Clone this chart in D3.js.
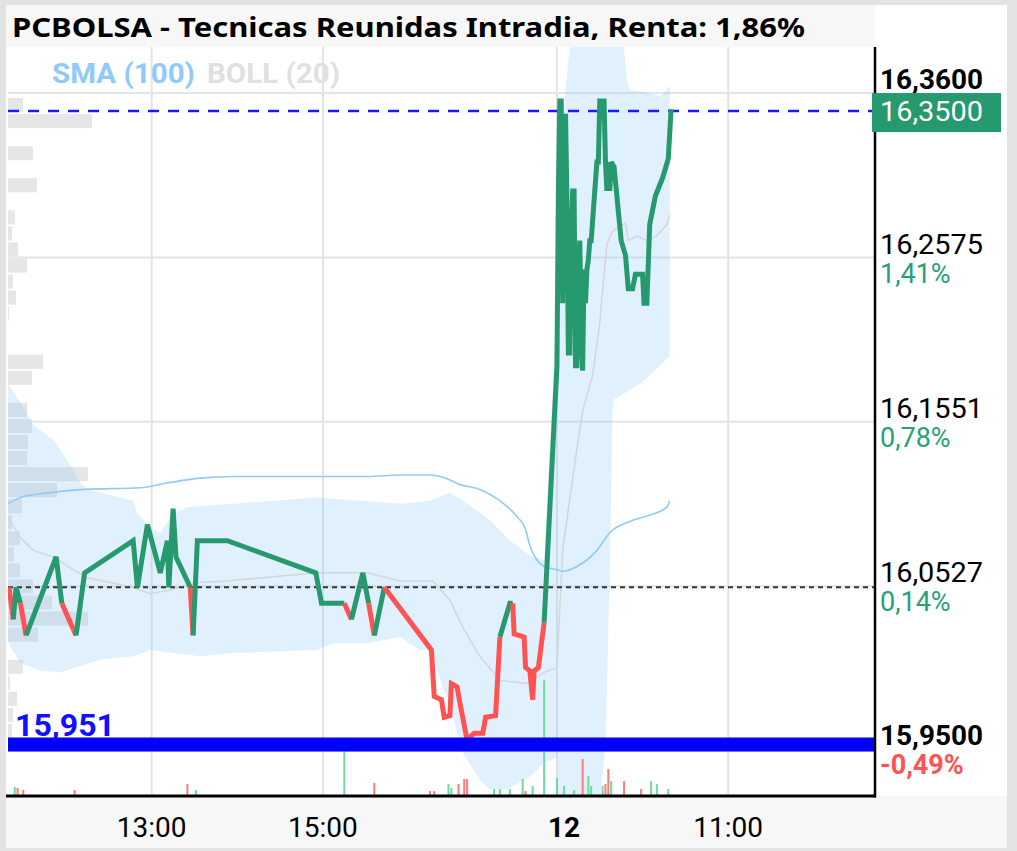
<!DOCTYPE html>
<html>
<head>
<meta charset="utf-8">
<script src="https://cdn.jsdelivr.net/npm/d3@7"></script>
<style>
  html, body { margin: 0; padding: 0; background: #ffffff; }
  svg { display: block; }
</style>
</head>
<body>
<svg id="chart" width="1017" height="851"></svg>
<script>
// ---------------- DATA ----------------
const chartTitle = "PCBOLSA - Tecnicas Reunidas Intradia, Renta: 1,86%";
const legendLabels = ["SMA (100)", "BOLL (20)"];

// price path ("day hh:mm")
const priceTimes = [
  "1 11:20","1 11:23","1 11:25","1 11:28","1 11:32","1 11:53","1 11:57","1 12:07","1 12:13","1 12:47",
  "1 12:50","1 12:57","1 13:06","1 13:11","1 13:12","1 13:15","1 13:17","1 13:27","1 13:29","1 13:32",
  "1 13:53","1 14:55","1 14:59","1 15:15","1 15:20","1 15:28","1 15:32","1 15:36","1 15:43","1 16:16",
  "1 16:18","1 16:23","1 16:25","1 16:29","1 16:30","1 16:34","1 16:36","1 16:41","1 16:46","1 16:52",
  "1 16:54","1 17:01","1 17:04","1 17:11","1 17:13","1 17:14","1 17:21","1 17:22","1 17:25","1 17:27",
  "1 17:28","1 17:31","1 17:35",
  "2 09:00","2 09:01","2 09:02","2 09:03","2 09:04","2 09:05","2 09:06","2 09:07","2 09:08","2 09:09",
  "2 09:10","2 09:11","2 09:12","2 09:13","2 09:14","2 09:15","2 09:16","2 09:17","2 09:18","2 09:19",
  "2 09:20","2 09:21","2 09:22","2 09:23","2 09:24","2 09:26","2 09:28","2 09:29","2 09:30","2 09:33",
  "2 09:34","2 09:35","2 09:36","2 09:37","2 09:38","2 09:40","2 09:45","2 09:48","2 09:50","2 09:53",
  "2 09:55","2 10:00","2 10:01","2 10:03","2 10:05","2 10:09","2 10:14","2 10:18","2 10:20"
];
const prices = [
  16.052,16.032,16.052,16.042,16.022,16.071,16.042,16.022,16.061,16.081,
  16.052,16.091,16.061,16.081,16.052,16.101,16.071,16.052,16.022,16.081,
  16.081,16.061,16.042,16.042,16.032,16.061,16.042,16.022,16.052,16.013,
  15.984,15.982,15.971,15.972,15.992,15.990,15.980,15.957,15.961,15.961,
  15.971,15.972,16.021,16.042,16.042,16.023,16.021,16.002,16.000,15.982,
  16.000,16.002,16.030,
  16.190,16.299,16.355,16.355,16.229,16.324,16.347,16.293,16.198,16.198,
  16.268,16.299,16.299,16.190,16.190,16.243,16.268,16.212,16.187,16.250,
  16.229,16.250,16.256,16.268,16.268,16.293,16.317,16.317,16.355,16.355,
  16.317,16.299,16.317,16.299,16.317,16.314,16.268,16.259,16.238,16.238,
  16.247,16.247,16.229,16.229,16.278,16.296,16.307,16.319,16.350
];

// Bollinger (20) bands
const bollUpperTimes = ["1 11:19","1 11:28","1 11:37","1 11:51","1 12:01","1 12:10","1 12:15","1 12:47","1 12:50","1 12:59",
  "1 13:06","1 13:15","1 13:25","1 13:57","1 14:56","1 15:54","1 16:15","1 16:29","1 16:43","1 16:57","1 17:11","1 17:25","1 17:35",
  "2 09:00","2 09:02","2 09:06","2 09:11","2 09:14","2 09:30","2 09:44","2 09:49","2 09:51","2 10:05","2 10:12","2 10:17","2 10:19"];
const bollUpper = [16.179,16.167,16.153,16.144,16.131,16.117,16.113,16.106,16.098,16.089,
  16.086,16.098,16.102,16.104,16.108,16.104,16.106,16.111,16.103,16.094,16.081,16.072,16.069,
  16.231,16.306,16.362,16.405,16.430,16.443,16.418,16.368,16.362,16.360,16.358,16.362,16.365];
const bollLowerTimes = ["1 11:19","1 11:21","1 11:28","1 11:42","1 11:56","1 12:24","1 12:47","1 12:59","1 13:34","1 13:57",
  "1 14:56","1 15:07","1 15:31","1 15:54","1 16:08","1 16:15","1 16:30","1 16:38","1 16:50","1 16:57","1 17:09","1 17:13",
  "1 17:25","1 17:32","1 17:35",
  "2 09:00","2 09:02","2 09:25","2 09:30","2 09:34","2 09:37","2 09:39","2 09:40","2 10:00","2 10:19"];
const bollLower = [16.020,16.015,16.005,16.000,15.999,16.007,16.009,16.013,16.009,16.011,
  16.013,16.017,16.017,16.021,16.013,16.013,15.975,15.949,15.932,15.926,15.926,15.928,
  15.934,15.940,15.943,
  15.946,15.880,15.870,15.919,15.953,16.060,16.162,16.169,16.180,16.196];
const bollMidTimes = ["1 11:19","1 11:28","1 11:37","1 11:51","1 12:05","1 12:15","1 12:31","1 12:47","1 12:59","1 13:11",
  "1 13:33","1 13:53","1 14:56","1 15:31","1 15:54","1 16:17","1 16:29","1 16:38","1 16:50","1 17:04","1 17:23","1 17:35",
  "2 09:00","2 09:04","2 09:11","2 09:18","2 09:25","2 09:30","2 09:35","2 09:39","2 09:48","2 09:50","2 09:56","2 10:03",
  "2 10:10","2 10:17","2 10:19"];
const bollMid = [16.096,16.083,16.075,16.071,16.063,16.058,16.055,16.052,16.048,16.050,
  16.055,16.056,16.061,16.061,16.056,16.056,16.044,16.027,16.009,15.994,15.992,15.999,
  16.002,16.075,16.120,16.162,16.184,16.217,16.266,16.274,16.279,16.268,16.271,16.268,
  16.271,16.278,16.284];

// SMA (100)
const smaTimes = ["1 11:19","1 11:28","1 11:49","1 12:13","1 12:52","1 13:11","1 13:34","1 13:57","1 15:31","1 15:54",
  "1 16:15","1 16:26","1 16:36","1 16:50","1 17:04","1 17:15","1 17:22","1 17:25","1 17:35",
  "2 09:00","2 09:04","2 09:14","2 09:28","2 09:37","2 09:51","2 10:05","2 10:17","2 10:19"];
const smaValues = [16.104,16.108,16.111,16.113,16.114,16.117,16.120,16.121,16.121,16.122,
  16.122,16.120,16.116,16.113,16.106,16.097,16.088,16.078,16.065,
  16.063,16.062,16.065,16.075,16.086,16.093,16.097,16.102,16.106];

// volume (thousands of shares)
const volTimes = ["1 11:24","1 11:26","1 11:30","1 12:06","1 13:25","1 13:31","1 15:15","1 15:36","1 16:15","1 16:18",
  "1 16:28","1 16:30","1 16:35","1 16:39","1 16:41","1 17:00","1 17:04","1 17:11","1 17:20","1 17:22","1 17:27","1 17:35",
  "2 09:00","2 09:05","2 09:12","2 09:18","2 09:22","2 09:24","2 09:32","2 09:34","2 09:36","2 09:38","2 09:47","2 09:59",
  "2 10:06","2 10:10","2 10:18"];
const volValues = [4.5,4,3,3,6,3,23,6.5,2.5,2.5,
  6,4,6,8.5,8.5,3.5,3.5,3.5,8.5,2.5,5,58,
  9,5,3,18.5,10,5,5,6,13.5,7.5,7.5,3.5,
  7.5,6,3.5];
const volUp = [1,0,0,0,0,1,1,0,0,0,
  1,1,0,0,0,1,1,1,1,0,1,1,
  1,1,1,0,1,1,1,0,0,1,0,0,
  1,1,1];

// volume profile (price bin centre, volume)
const profilePrices = [16.3525,16.3425,16.3225,16.3025,16.2825,16.2725,16.2625,16.2525,16.2425,16.2325,16.2225,
  16.1925,16.1825,16.1625,16.1525,16.1425,16.1325,16.1225,16.1125,16.1025,16.0925,16.0825,16.0725,16.0625,
  16.0525,16.0425,16.0325,16.0225,16.0025,15.9925,15.9825,15.9725,15.9625];
const profileVolumes = [7.5,42,12.5,14.5,3.5,2,5,9.5,2.5,4,0.5,
  17.5,12,9.5,12,10,9.5,40,24.5,7,2,6,3,6,
  12.5,22,40,15,7.5,1,4.5,2.5,2];
const profileBin = 0.01;

// axes
const priceTicks = [16.36, 16.2575, 16.1551, 16.0527, 15.95];
const priceTickLabels = ["16,3600", "16,2575", "16,1551", "16,0527", "15,9500"];
const pctTickLabels = ["", "1,41%", "0,78%", "0,14%", "-0,49%"];
const timeTicks = ["1 13:00", "1 15:00", "2 09:00", "2 11:00"];
const timeTickLabels = ["13:00", "15:00", "12", "11:00"];

const lastPrice = 16.35, lastPriceLabel = "16,3500";
const refPrice = 16.052;          // previous close (dotted)
const colorThreshold = 16.035;    // line colour switch
const supportLevel = 15.951, supportLabel = "15,951";

// ---------------- LAYOUT ----------------
const W = 1017, H = 851;
const P = { l: 8, r: 875, t: 47, b: 796 };
const DAY2_SHIFT = 524; // minutes compressed between sessions
const GREEN = "#26996e", RED = "#ff5252";

function parseT(s) {
  const [d, hm] = s.split(" ");
  const [h, m] = hm.split(":").map(Number);
  return (d === "2" ? DAY2_SHIFT : 0) + h * 60 + m;
}

const x = d3.scaleLinear().domain([parseT("1 13:00"), parseT("2 11:00")]).range([151.7, 728.2]);
const y = d3.scaleLinear().domain([15.95, 16.36]).range([751, 93]);
const vy = d3.scaleLinear().domain([0, 58]).range([P.b, P.b - 116]);
const px = d3.scaleLinear().domain([0, 42]).range([0, 84]);

const svg = d3.select("#chart");
const defs = svg.append("defs");
defs.append("clipPath").attr("id", "plotClip")
  .append("rect").attr("x", P.l).attr("y", P.t).attr("width", P.r - P.l).attr("height", P.b - P.t);

// frame
svg.append("rect").attr("width", W).attr("height", H).attr("fill", "#e3e3e3");
svg.append("rect").attr("x", 6).attr("y", 5).attr("width", 1001).attr("height", 843).attr("fill", "#ffffff");
svg.append("rect").attr("x", 6).attr("y", 5).attr("width", P.r - 6).attr("height", P.t - 5).attr("fill", "#f7f7f7");
svg.append("rect").attr("x", 6).attr("y", P.b).attr("width", 1001).attr("height", 848 - P.b).attr("fill", "#f7f7f7");

const plot = svg.append("g").attr("clip-path", "url(#plotClip)");

// grid
plot.append("g").selectAll("line").data(priceTicks).join("line")
  .attr("x1", P.l).attr("x2", P.r).attr("y1", d => y(d)).attr("y2", d => y(d))
  .attr("stroke", "#e4e4e4").attr("stroke-width", 2);
plot.append("g").selectAll("line").data(timeTicks).join("line")
  .attr("x1", d => x(parseT(d))).attr("x2", d => x(parseT(d))).attr("y1", P.t).attr("y2", P.b)
  .attr("stroke", "#e4e4e4").attr("stroke-width", 2);

// volume profile
const binPx = Math.abs(y(0) - y(profileBin));
plot.append("g").selectAll("rect").data(profilePrices).join("rect")
  .attr("x", P.l).attr("y", d => y(d) - binPx / 2 + 1)
  .attr("width", (d, i) => px(profileVolumes[i]))
  .attr("height", binPx - 2)
  .attr("fill", "#e6e6e6");

// Bollinger band fill
const up = bollUpperTimes.map((t, i) => [x(parseT(t)), y(bollUpper[i])]);
const lo = bollLowerTimes.map((t, i) => [x(parseT(t)), y(bollLower[i])]);
const lineGen = d3.line();
plot.append("path").attr("d", lineGen(up.concat(lo.slice().reverse())) + "Z")
  .attr("fill", "rgba(144,202,249,0.28)").attr("stroke", "none");

// middle band
plot.append("path")
  .attr("d", lineGen(bollMidTimes.map((t, i) => [x(parseT(t)), y(bollMid[i])])))
  .attr("fill", "none").attr("stroke", "#d6d6d6").attr("stroke-width", 1.5);

// SMA
plot.append("path")
  .attr("d", d3.line().curve(d3.curveMonotoneX)(smaTimes.map((t, i) => [x(parseT(t)), y(smaValues[i])])))
  .attr("fill", "none").attr("stroke", "#90caf9").attr("stroke-width", 1.6);

// volume bars
plot.append("g").selectAll("rect").data(volTimes).join("rect")
  .attr("x", d => x(parseT(d)) - 1).attr("width", 2)
  .attr("y", (d, i) => vy(volValues[i])).attr("height", (d, i) => P.b - vy(volValues[i]))
  .attr("fill", (d, i) => volUp[i] ? "#6edb9e" : "#ff7b7b");

// reference dotted line
plot.append("line").attr("x1", P.l).attr("x2", P.r).attr("y1", y(refPrice)).attr("y2", y(refPrice))
  .attr("stroke", "#333").attr("stroke-width", 2).attr("stroke-dasharray", "5,4");
// last price dashed line
plot.append("line").attr("x1", P.l).attr("x2", P.r).attr("y1", y(lastPrice) + 2).attr("y2", y(lastPrice) + 2)
  .attr("stroke", "#1a1aff").attr("stroke-width", 2.5).attr("stroke-dasharray", "11,9");

// price line, coloured runs
const pts = priceTimes.map((t, i) => ({ x: x(parseT(t)), y: y(prices[i]), up: prices[i] >= colorThreshold }));
const runs = [];
for (let i = 1; i < pts.length; i++) {
  const c = pts[i].up;
  if (!runs.length || runs[runs.length - 1].c !== c) runs.push({ c, p: [[pts[i - 1].x, pts[i - 1].y]] });
  runs[runs.length - 1].p.push([pts[i].x, pts[i].y]);
}
plot.append("g").selectAll("path").data(runs).join("path")
  .attr("d", d => lineGen(d.p))
  .attr("fill", "none").attr("stroke", d => d.c ? GREEN : RED)
  .attr("stroke-width", 5).attr("stroke-linejoin", "miter").attr("stroke-miterlimit", 3);

// support line
plot.append("line").attr("x1", P.l).attr("x2", P.r)
  .attr("y1", y(supportLevel) - 5).attr("y2", y(supportLevel) - 5)
  .attr("stroke", "#0000ff").attr("stroke-width", 14);
svg.append("text").attr("x", 15).attr("y", y(supportLevel) - 13)
  .attr("font-family", "Roboto").attr("font-size", 32).attr("font-weight", 700)
  .attr("textLength", 100).attr("lengthAdjust", "spacingAndGlyphs")
  .attr("fill", "#1010ff").text(supportLabel);

// axis lines
svg.append("line").attr("x1", P.r).attr("x2", P.r).attr("y1", P.t).attr("y2", P.b + 1.5)
  .attr("stroke", "#000").attr("stroke-width", 2.5);
svg.append("line").attr("x1", 6).attr("x2", P.r + 1).attr("y1", P.b).attr("y2", P.b)
  .attr("stroke", "#000").attr("stroke-width", 3);

// right labels
const rl = svg.append("g").attr("font-family", "Roboto").attr("font-size", 27);
priceTicks.forEach((v, i) => {
  const bold = i === 0 || i === priceTicks.length - 1;
  rl.append("text").attr("x", 880).attr("y", y(v) - (i === priceTicks.length - 1 ? 6 : 4))
    .attr("font-weight", bold ? 700 : 400).attr("fill", "#000")
    .attr("textLength", 103).attr("lengthAdjust", "spacingAndGlyphs")
    .text(priceTickLabels[i]);
  if (pctTickLabels[i]) {
    rl.append("text").attr("x", 880).attr("y", y(v) + (i === priceTicks.length - 1 ? 23 : 25))
      .attr("font-weight", bold ? 700 : 400)
      .attr("fill", pctTickLabels[i].startsWith("-") ? RED : "#26a17a").text(pctTickLabels[i]);
  }
});
// last price box
svg.append("rect").attr("x", 872).attr("y", y(lastPrice) - 16).attr("width", 129).attr("height", 39).attr("fill", GREEN);
svg.append("text").attr("x", 880).attr("y", y(lastPrice) + 12)
  .attr("font-family", "Roboto").attr("font-size", 27).attr("fill", "#fff")
  .attr("textLength", 103).attr("lengthAdjust", "spacingAndGlyphs").text(lastPriceLabel);

// bottom labels
svg.append("g").selectAll("text").data(timeTicks).join("text")
  .attr("x", (d, i) => x(parseT(d)) + (timeTickLabels[i] === "12" ? 7 : 0)).attr("y", 837)
  .attr("text-anchor", "middle").attr("font-family", "Roboto").attr("font-size", 28)
  .attr("font-weight", (d, i) => timeTickLabels[i] === "12" ? 700 : 400)
  .attr("fill", "#000").text((d, i) => timeTickLabels[i]);

// title
svg.append("text").attr("x", 12).attr("y", 37)
  .attr("font-family", "Noto Sans").attr("font-size", 27).attr("font-weight", 700)
  .attr("textLength", 793).attr("lengthAdjust", "spacingAndGlyphs")
  .attr("fill", "#000").text(chartTitle);

// legend
const legendX = [52, 207], legendW = [143, 133];
svg.append("g").selectAll("text").data(legendLabels).join("text")
  .attr("x", (d, i) => legendX[i]).attr("y", 83)
  .attr("font-family", "Roboto").attr("font-size", 27).attr("font-weight", 700)
  .attr("textLength", (d, i) => legendW[i]).attr("lengthAdjust", "spacingAndGlyphs")
  .attr("fill", (d, i) => i === 0 ? "#90caf9" : "#e0e0e0")
  .text(d => d);
</script>
</body>
</html>
